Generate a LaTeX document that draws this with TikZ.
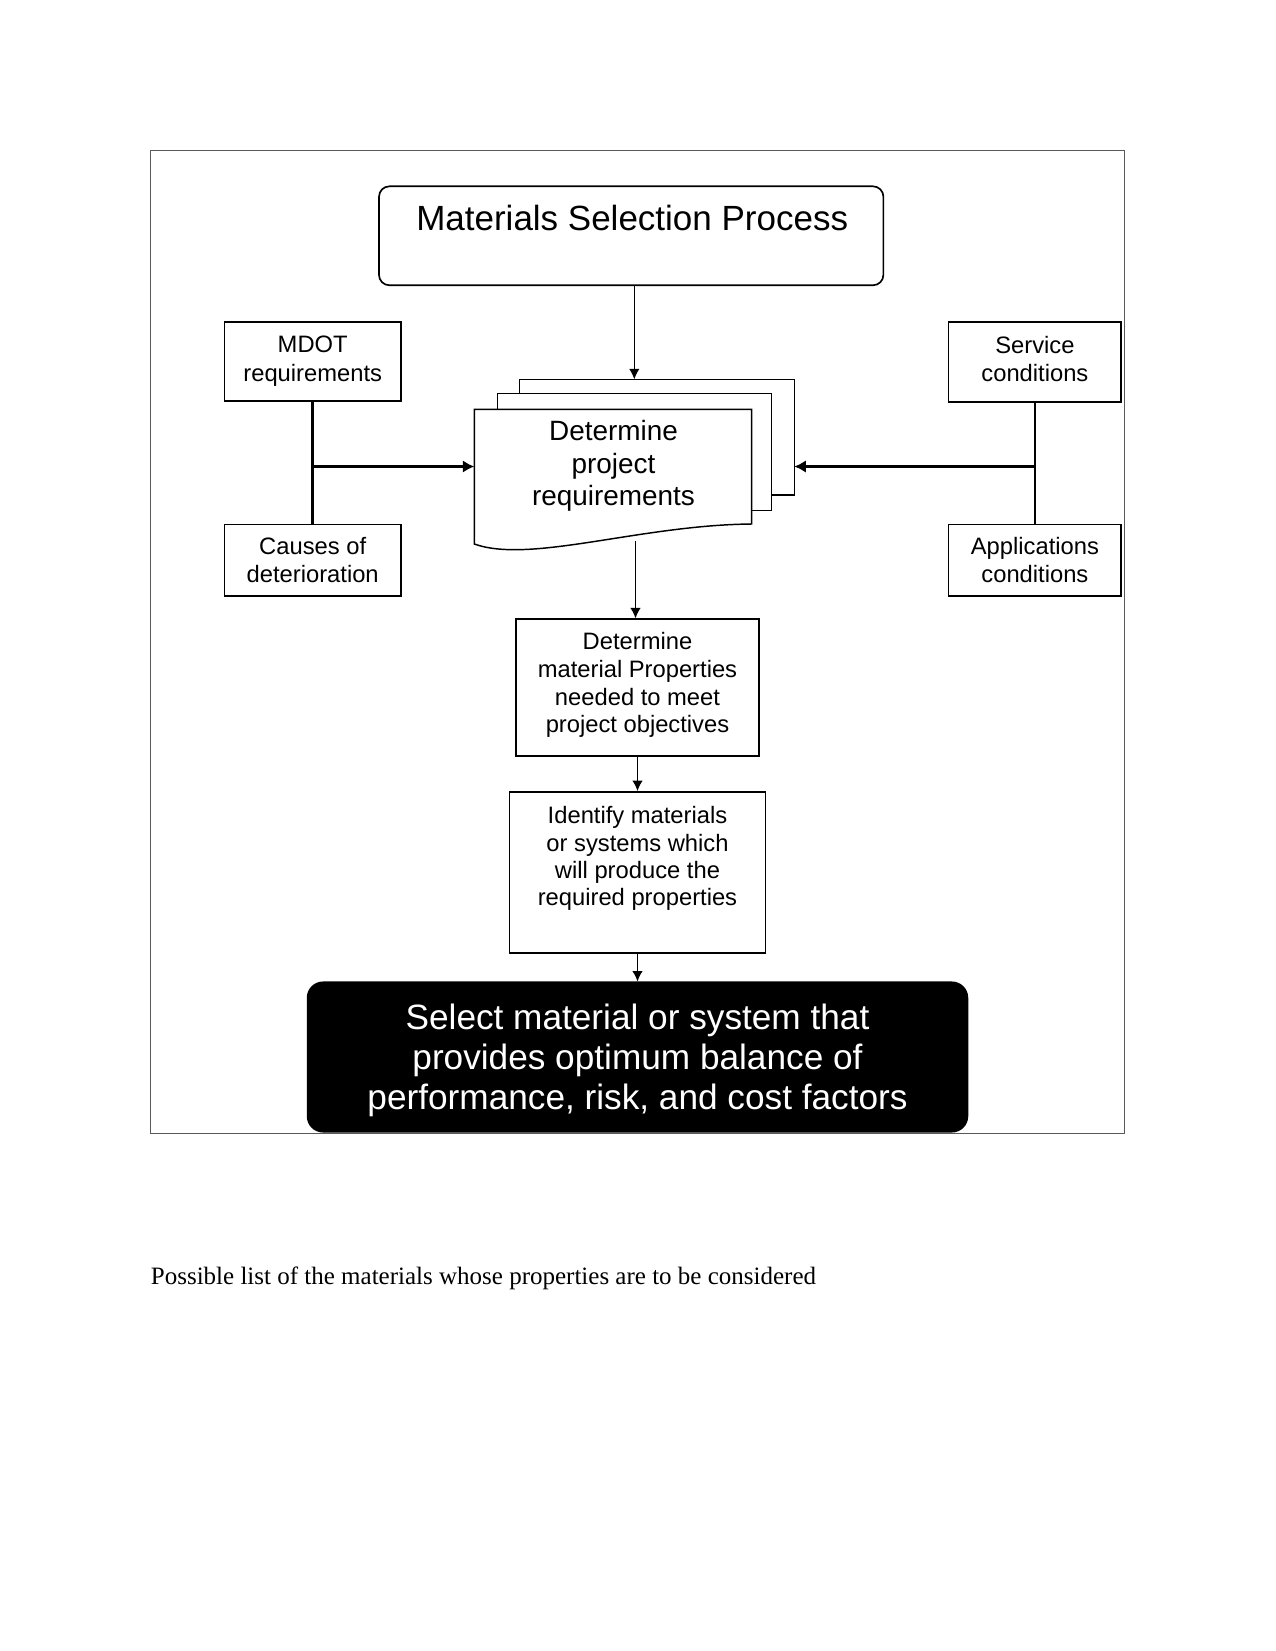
\documentclass[tikz,border=0pt]{standalone}
\usepackage{fontspec}
\setmainfont{Liberation Serif}
\newfontfamily\arialf{Liberation Sans}
\usetikzlibrary{arrows.meta}
\newcommand{\myfs}[2]{\fontsize{#1}{#2}\selectfont}
\begin{document}
\begin{tikzpicture}[x=0.48bp,y=-0.48bp,
  box/.style={draw, line width=0.7bp, inner sep=0pt, align=center, font=\arialf\myfs{11.4bp}{13.4bp}},
  txt/.style={inner sep=0pt, align=center},
  arr/.style={line width=0.6bp, -{Latex[length=5bp,width=5bp]}},
  thickarr/.style={line width=1.4bp, -{Latex[length=5.5bp,width=6bp]}},
  page/.style={draw, fill=white, line width=0.6bp}
]
\useasboundingbox (0,0) rectangle (1275,1651);
% outer frame
\draw[black!65, line width=0.5bp] (150.5,150.5) rectangle (1124.4,1133.9);

% title
\node[box, rounded corners=5bp, line width=0.8bp, minimum width=242.1bp, minimum height=47.5bp] (title) at (631.2,235.8) {};
\node[txt, font=\arialf\myfs{16.8bp}{19bp}] (titletext) at (632.2,218) {Materials Selection Process};

% side boxes
\node[box, minimum width=84.9bp, minimum height=37.9bp] (mdot) at (312.7,361.7) {};
\node[txt, font=\arialf\myfs{11.4bp}{13.6bp}] (mdottext) at (312.7,361) {MDOT\\requirements};
\node[box, minimum width=84.9bp, minimum height=34.4bp] (causes) at (312.7,560.1) {Causes of\\deterioration};
\node[box, minimum width=82.8bp, minimum height=38.4bp] (service) at (1034.9,362.2) {};
\node[txt, font=\arialf\myfs{11.4bp}{13.4bp}] (servicetext) at (1034.9,359) {Service\\conditions};
\node[box, minimum width=82.8bp, minimum height=34.4bp] (apps) at (1034.9,560.1) {Applications\\conditions};

% document stack
\draw[page] (519.3,379.3) rectangle (794.3,495);
\draw[page] (497.3,393.3) rectangle (771.7,510.7);
\draw[page, line width=0.7bp] (474.3,409.3) -- (751.7,409.3) -- (751.7,524)
   .. controls (640,525) and (530,564) .. (474.3,544) -- cycle;
\node[txt, font=\arialf\myfs{13.4bp}{15.6bp}] (doc) at (613.5,466.2) {Determine\\project\\requirements};
\coordinate (docL) at (474.3,466.5);
\coordinate (docR) at (794.3,466.5);
\coordinate (docT) at (634.3,379.3);
\coordinate (docB) at (635.5,541);

% process boxes
\node[box, minimum width=116.7bp, minimum height=65.7bp] (props) at (637.5,687.5) {};
\node[txt, font=\arialf\myfs{11.4bp}{13.3bp}] (propstext) at (637.5,685) {Determine\\material Properties\\needed to meet\\project objectives};
\node[box, minimum width=122.8bp, minimum height=77.3bp] (ident) at (637.5,872.3) {};
\node[txt, font=\arialf\myfs{11.4bp}{13bp}] (identtext) at (637.5,858.4) {Identify materials\\or systems which\\will produce the\\required properties};
\node[draw, fill=black, rounded corners=7.5bp, line width=0.7bp, minimum width=316.8bp, minimum height=71.8bp, inner sep=0pt] (select) at (637.5,1057) {};
\node[txt, text=white, font=\arialf\myfs{16.9bp}{19.2bp}] (selecttext) at (637.5,1060) {Select material or system that\\provides optimum balance of\\performance, risk, and cost factors};

% connectors
\draw[arr] (docT |- title.south) -- (docT);
\draw[line width=1.4bp] (mdot.south) -- (causes.north);
\coordinate (lj) at (mdot.south |- docL);
\draw[thickarr] (lj) -- (docL);
\draw[line width=0.6bp] (service.south) -- (apps.north);
\coordinate (rj) at (service.south |- docR);
\draw[thickarr] (rj) -- (docR);
\draw[arr] (docB) -- (docB |- props.north);
\draw[arr] (props.south) -- (ident.north);
\draw[arr] (ident.south) -- (select.north);

% caption
\node[anchor=base west, inner sep=0pt, font=\myfs{12bp}{14bp}] (caption) at (150.5,1284) {Possible list of the materials whose properties are to be considered};
\end{tikzpicture}
\end{document}
